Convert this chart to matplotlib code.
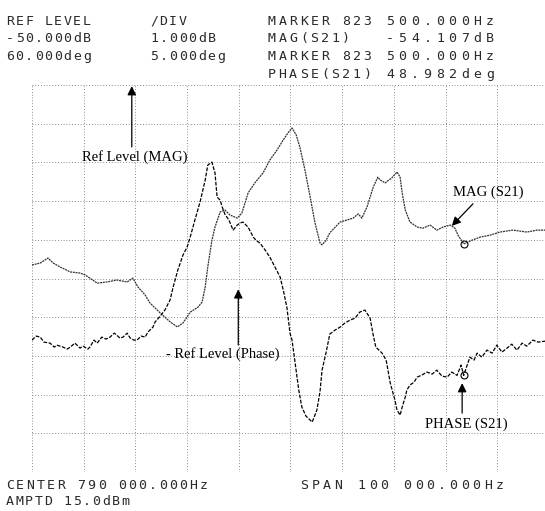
import numpy as np
import matplotlib
matplotlib.use("Agg")
import matplotlib.pyplot as plt

# sweep: center 790 kHz, span 100 kHz
F_START, F_STOP = 740.0, 840.0
MAG_REF, MAG_DIV = -50.0, 1.0          # dB, ref at top line
PH_REF, PH_DIV = 60.0, 5.0             # deg
PH_REF_POS = 5.3                       # divisions below top
MARK_KHZ, MARK_DB, MARK_DEG = 823.5, -54.107, 48.982

mag_khz = [740.0, 741.6, 743.1, 744.1, 745.4, 747.4, 749.3, 750.3, 751.2, 752.6,
           754.5, 756.4, 758.4, 759.5, 760.5, 761.9, 762.8, 764.8, 766.7, 768.1,
           769.2, 770.6, 772.1, 772.9, 773.5, 774.0, 774.8, 775.4, 776.4, 777.3,
           778.3, 779.7, 780.6, 781.2, 781.8, 783.1, 784.7, 786.0, 787.4, 788.6,
           789.5, 790.3, 791.1, 791.8, 792.8, 793.8, 794.7, 795.7, 796.1, 796.9,
           797.6, 799.6, 800.9, 802.1, 803.1, 803.8, 804.8, 806.0, 806.9, 807.3,
           808.3, 809.6, 810.6, 811.2, 811.6, 812.2, 813.1, 814.5, 815.6, 817.0,
           818.3, 819.5, 820.9, 821.8, 822.4, 823.5, 825.1, 826.7, 828.6, 830.5,
           833.0, 835.7, 837.7, 839.2, 840.0]
mag_db = [-54.65, -54.60, -54.47, -54.60, -54.70, -54.83, -54.86, -54.91, -54.99, -55.12,
          -55.09, -55.04, -55.09, -54.99, -55.22, -55.43, -55.63, -55.89, -56.12, -56.25,
          -56.15, -55.87, -55.74, -55.61, -55.22, -54.70, -54.01, -53.67, -53.28, -53.23,
          -53.36, -53.44, -53.31, -53.05, -52.79, -52.53, -52.27, -51.94, -51.68, -51.42,
          -51.24, -51.11, -51.29, -51.60, -52.20, -52.89, -53.54, -54.08, -54.13, -54.01,
          -53.82, -53.54, -53.49, -53.44, -53.33, -53.44, -53.15, -52.64, -52.38, -52.45,
          -52.53, -52.40, -52.25, -52.38, -52.79, -53.23, -53.54, -53.67, -53.70, -53.62,
          -53.75, -53.67, -53.62, -53.70, -53.88, -54.107, -54.01, -53.93, -53.88, -53.80,
          -53.75, -53.80, -53.75, -53.75, -53.72]

ph_khz = [740.0, 740.8, 741.6, 742.3, 743.5, 744.3, 744.8, 746.0, 746.8, 747.4,
          748.3, 749.3, 749.9, 750.8, 751.2, 752.0, 752.6, 753.5, 754.3, 755.1,
          755.9, 756.4, 757.0, 757.6, 758.4, 759.0, 759.7, 760.3, 761.1, 761.9,
          762.4, 763.4, 763.8, 764.8, 765.7, 766.7, 767.3, 768.2, 769.2, 770.0,
          770.6, 771.5, 772.5, 773.5, 774.0, 774.8, 775.4, 775.8, 776.4, 776.8,
          777.3, 778.1, 778.9, 779.7, 780.2, 780.8, 781.8, 782.8, 783.3, 784.1,
          785.1, 786.0, 787.0, 788.0, 788.6, 789.3, 789.9, 790.3, 790.9, 791.6,
          792.2, 793.0, 793.8, 794.2, 794.5, 795.1, 795.7, 796.1, 796.9, 797.6,
          798.6, 799.6, 800.5, 801.5, 802.5, 803.4, 804.4, 805.4, 806.0, 806.5,
          807.1, 807.7, 808.5, 809.3, 810.2, 810.6, 811.2, 811.6, 812.2, 812.5,
          813.1, 813.9, 814.5, 815.4, 816.4, 817.4, 818.3, 819.3, 820.3, 821.2,
          822.2, 823.0, 823.5, 824.7, 825.5, 826.1, 827.0, 828.0, 829.0, 829.9,
          830.9, 831.9, 832.8, 833.8, 834.8, 835.7, 836.9, 837.9, 839.2, 840.0]
ph_deg = [53.54, 54.06, 53.93, 53.28, 53.15, 52.64, 52.89, 52.64, 52.38, 52.64,
          53.15, 52.51, 52.76, 52.38, 52.64, 53.54, 53.15, 53.93, 53.67, 53.93,
          54.44, 54.19, 53.80, 53.93, 54.44, 53.80, 53.54, 53.54, 54.06, 53.93,
          54.57, 55.22, 55.87, 56.64, 57.42, 58.71, 60.39, 62.58, 64.52, 65.56,
          66.85, 69.04, 71.37, 74.21, 76.15, 76.54, 75.12, 72.02, 71.63, 70.72,
          69.82, 69.04, 67.75, 68.40, 68.66, 68.79, 68.14, 66.85, 66.46, 66.07,
          65.17, 64.26, 62.97, 61.68, 60.00, 57.80, 54.44, 53.54, 50.57, 47.08,
          44.88, 43.72, 43.20, 42.95, 43.46, 44.50, 46.82, 49.66, 51.99, 54.32,
          54.83, 55.22, 55.74, 56.12, 56.38, 57.16, 57.42, 56.38, 54.19, 52.64,
          52.25, 51.86, 50.96, 47.98, 45.79, 44.50, 43.85, 44.88, 46.18, 47.08,
          47.73, 48.11, 48.76, 49.02, 49.41, 49.15, 49.66, 48.89, 48.76, 49.41,
          48.98, 50.31, 50.70, 51.34, 50.96, 51.86, 51.34, 52.25, 51.86, 52.89,
          51.99, 52.51, 53.02, 52.25, 53.15, 52.76, 53.54, 53.28, 53.40, 53.30]
# the marker sits on the phase trace at index where khz == MARK_KHZ
ph_deg[ph_khz.index(MARK_KHZ)] = MARK_DEG

W, H = 545, 511
fig = plt.figure(figsize=(W / 100, H / 100), dpi=100)
fig.patch.set_facecolor("white")

# graticule: 32..549 px wide, 85..472 px high (right edge runs off the print)
ax = fig.add_axes([32 / W, (H - 472) / H, 517 / W, 387 / H])
ax.set_xlim(F_START, F_STOP)
ax.set_ylim(MAG_REF - 10 * MAG_DIV, MAG_REF)
ph_top = PH_REF + PH_REF_POS * PH_DIV
ax2 = ax.twinx()
ax2.set_ylim(ph_top - 10 * PH_DIV, ph_top)

for a in (ax, ax2):
    for s in a.spines.values():
        s.set_visible(False)
    a.tick_params(left=False, right=False, bottom=False, top=False,
                  labelleft=False, labelright=False, labelbottom=False)

ax.set_xticks(np.linspace(F_START, F_STOP, 11))
ax.set_yticks(np.linspace(MAG_REF - 10, MAG_REF, 11))
ax.grid(True, color="#666666", lw=0.6, ls=(0, (1, 2.4)))
ax.set_axisbelow(True)

ax.plot(mag_khz, mag_db, color="#333333", lw=0.9, ls=(0, (1.6, 0.6)))
ax2.plot(ph_khz, ph_deg, color="black", lw=0.9, ls=(0, (3, 1.2)))
ax.plot([MARK_KHZ], [MARK_DB], "o", ms=5, mfc="none", mec="black", mew=0.8)
ax2.plot([MARK_KHZ], [MARK_DEG], "o", ms=5, mfc="none", mec="black", mew=0.8)

serif = dict(family="Liberation Serif", fontsize=10.5, color="black")
arr = dict(arrowstyle="-|>", color="black", lw=0.9, mutation_scale=13, shrinkA=0, shrinkB=0)

ax.text(749.7, -51.86, "Ref Level (MAG)", ha="left", va="center", **serif)
ax.annotate("", xy=(759.3, -50.03), xytext=(759.3, -51.60), arrowprops=arr)

ax2.text(765.9, 51.73, "- Ref Level (Phase)", ha="left", va="center", **serif)
ax2.annotate("", xy=(779.9, 60.1), xytext=(779.9, 52.9), arrowprops=arr)

ax.text(821.4, -52.76, "MAG (S21)", ha="left", va="center", **serif)
ax.annotate("", xy=(821.2, -53.64), xytext=(825.3, -53.07), arrowprops=arr)

ax2.text(816.0, 42.69, "PHASE (S21)", ha="left", va="center", **serif)
ax2.annotate("", xy=(823.2, 47.98), xytext=(823.2, 44.11), arrowprops=arr)


def put(x, y, s, pitch):
    # fixed-pitch analyzer lettering, placed cell by cell in pixel coords
    for i, ch in enumerate(s):
        if ch != " ":
            fig.text((x + i * pitch) / W, 1 - y / H, ch, family="DejaVu Sans Mono",
                     fontsize=9.5, color="#2a2a2a", ha="left", va="baseline")


put(6, 25, "REF LEVEL", 9.6)
put(150, 25, "/DIV", 9.6)
put(268, 25, "MARKER 823", 10.6)
put(386, 25, "500.000Hz", 12.5)
put(6, 42, "-50.000dB", 9.6)
put(150, 42, "1.000dB", 9.6)
put(268, 42, "MAG(S21)", 10.6)
put(386, 42, "-54.107dB", 12.5)
put(6, 60, "60.000deg", 9.6)
put(150, 60, "5.000deg", 9.6)
put(268, 60, "MARKER 823", 10.6)
put(386, 60, "500.000Hz", 12.5)
put(268, 78, "PHASE(S21)", 10.6)
put(386, 78, "48.982deg", 12.5)
put(6, 489, "CENTER 790 000.000Hz", 10.2)
put(300, 489, "SPAN 100 000.000Hz", 11.5)
put(6, 505, "AMPTD 15.0dBm", 9.6)

fig.savefig("out.png", dpi=100, facecolor="white")
